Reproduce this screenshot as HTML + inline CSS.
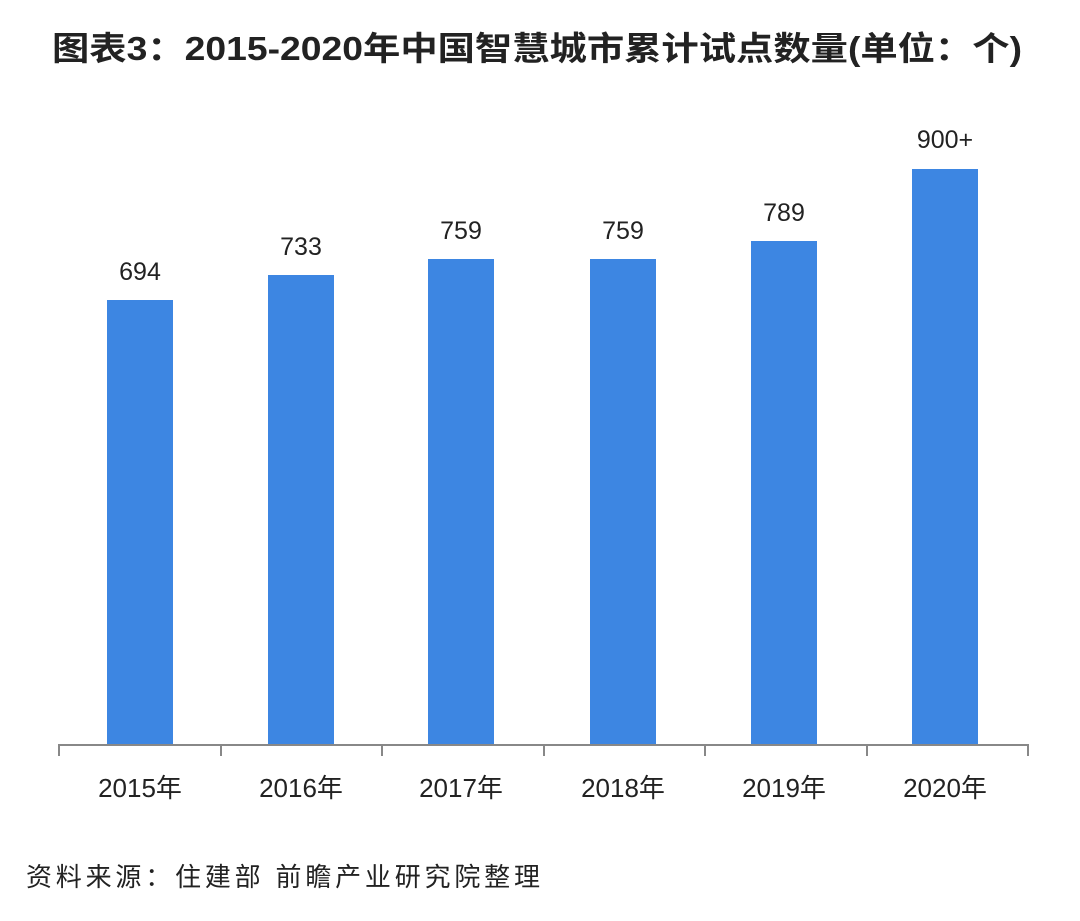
<!DOCTYPE html>
<html><head><meta charset="utf-8"><style>
body{margin:0;background:#fff;width:1080px;height:916px;overflow:hidden}
</style></head><body>
<svg width="1080" height="916" xmlns="http://www.w3.org/2000/svg" font-family="Liberation Sans, Noto Sans CJK SC, sans-serif">
<text x="52" y="60" font-size="33" font-weight="bold" fill="#222" textLength="970" lengthAdjust="spacingAndGlyphs">图表3：2015-2020年中国智慧城市累计试点数量(单位：个)</text>
<g fill="#3D86E2">
<rect x="107" y="300" width="66" height="445"/>
<rect x="268" y="275" width="66" height="470"/>
<rect x="428" y="259" width="66" height="486"/>
<rect x="590" y="259" width="66" height="486"/>
<rect x="751" y="241" width="66" height="504"/>
<rect x="912" y="169" width="66" height="576"/>
</g>
<g font-size="25" text-anchor="middle" fill="#222">
<text x="140" y="280">694</text>
<text x="301" y="255">733</text>
<text x="461" y="239">759</text>
<text x="623" y="239">759</text>
<text x="784" y="221">789</text>
<text x="945" y="148">900+</text>
</g>
<g stroke="#888" stroke-width="2" fill="none">
<line x1="59" y1="745" x2="1029" y2="745"/>
<line x1="59" y1="744" x2="59" y2="756"/>
<line x1="221" y1="744" x2="221" y2="756"/>
<line x1="382" y1="744" x2="382" y2="756"/>
<line x1="544" y1="744" x2="544" y2="756"/>
<line x1="705" y1="744" x2="705" y2="756"/>
<line x1="867" y1="744" x2="867" y2="756"/>
<line x1="1028" y1="744" x2="1028" y2="756"/>
</g>
<g font-size="26" text-anchor="middle" fill="#222">
<text x="140" y="797">2015年</text>
<text x="301" y="797">2016年</text>
<text x="461" y="797">2017年</text>
<text x="623" y="797">2018年</text>
<text x="784" y="797">2019年</text>
<text x="945" y="797">2020年</text>
</g>
<text x="26" y="886" font-size="26" fill="#222" textLength="514" lengthAdjust="spacing">资料来源：住建部 前瞻产业研究院整理</text>
</svg>
</body></html>
